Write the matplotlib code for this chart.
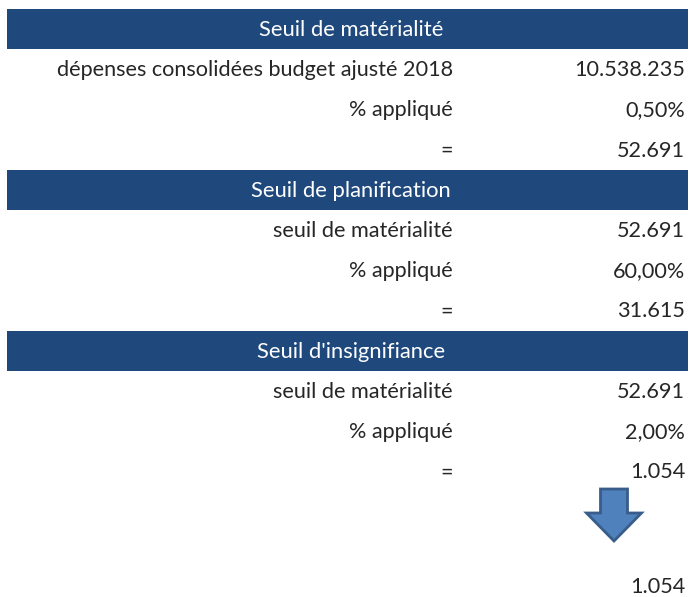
import matplotlib.pyplot as plt
from matplotlib.patches import Rectangle, FancyArrow

# section headers and their rows
headers = ["Seuil de matérialité", "Seuil de planification", "Seuil d'insignifiance"]
row_labels = [
    ["dépenses consolidées budget ajusté 2018", "% appliqué", "="],
    ["seuil de matérialité", "% appliqué", "="],
    ["seuil de matérialité", "% appliqué", "="],
]
row_values = [
    ["10.538.235", "0,50%", "52.691"],
    ["52.691", "60,00%", "31.615"],
    ["52.691", "2,00%", "1.054"],
]
final_value = "1.054"

header_color = "#1F497D"
text_color = "#262626"
font = ["Lato", "DejaVu Sans"]

fig = plt.figure(figsize=(6.92, 5.97), dpi=100)
ax = fig.add_axes([0, 0, 1, 1])
ax.set_xlim(0, 692)
ax.set_ylim(597, 0)
ax.axis("off")

row_h = 40.2
y = 9
for h, labs, vals in zip(headers, row_labels, row_values):
    ax.add_patch(Rectangle((7, y), 681, 40, color=header_color, lw=0))
    ax.text(351, y + 21, h, color="white", ha="center", va="center",
            fontsize=15.8, family=font)
    y += row_h
    for lab, val in zip(labs, vals):
        cy = y + 21
        ax.text(453, cy, lab, ha="right", va="center", fontsize=15.6,
                color=text_color, family=font)
        ax.text(685, cy, val, ha="right", va="center", fontsize=15.6,
                color=text_color, family=font)
        y += row_h

# down arrow
ax.add_patch(FancyArrow(614, 489, 0, 52, width=27, head_width=55, head_length=28,
                        length_includes_head=True, facecolor="#4F81BD",
                        edgecolor="#385D8A", lw=2))
ax.text(685, 587, final_value, ha="right", va="center", fontsize=15.6,
        color=text_color, family=font)

fig.savefig("out.png", dpi=100)
